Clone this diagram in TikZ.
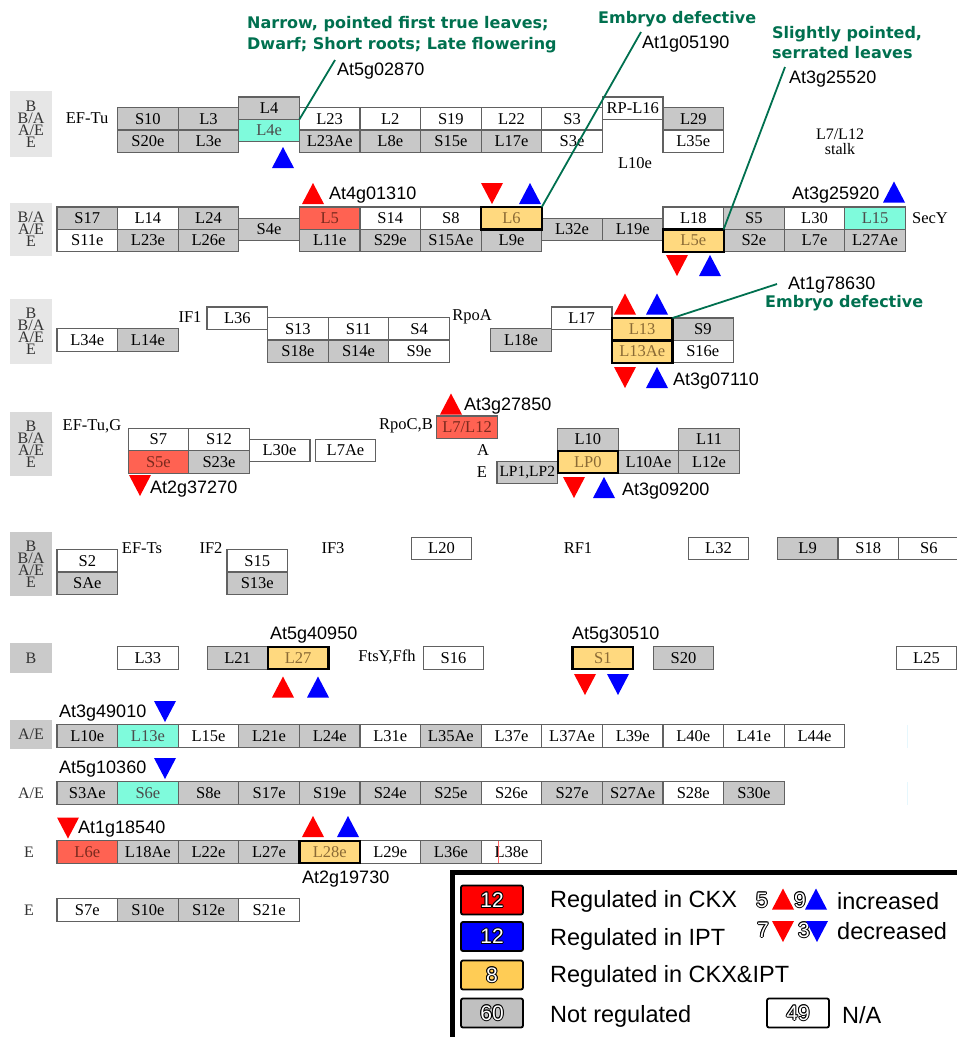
\documentclass[tikz,border=0pt]{standalone}
\usepackage{fontspec}
\setmainfont{Liberation Serif}
\newfontfamily\genefont{Liberation Sans}
\newfontfamily\phenofont{DejaVu Sans}
\usetikzlibrary{positioning}

\definecolor{cellgray}{HTML}{C8C8C8}
\definecolor{cellcyan}{HTML}{7FFBDC}
\definecolor{cellred}{HTML}{FF6252}
\definecolor{cellyellow}{HTML}{FFD97F}
\definecolor{phgreen}{HTML}{00704F}
\definecolor{redtext}{HTML}{7A2A1E}
\definecolor{yeltext}{HTML}{8A6A35}
\definecolor{sidelight}{HTML}{E6E6E6}
\definecolor{sidemid}{HTML}{DADADA}
\definecolor{sidedark}{HTML}{CACACA}
\definecolor{legyellow}{HTML}{FFCC55}
\definecolor{leggray}{HTML}{C0C0C0}

\tikzset{
  cell/.style={draw=black!62, line width=1.2pt, minimum width=60.6pt, minimum height=22.4pt,
    inner sep=0pt, outer sep=0pt, font=\fontsize{16.5}{16.5}\selectfont},
  gr/.style={fill=cellgray},
  wh/.style={fill=white},
  cy/.style={fill=cellcyan, text=black!70},
  rd/.style={fill=cellred, text=redtext},
  yl/.style={fill=cellyellow, text=yeltext},
  side/.style={minimum width=42pt, inner sep=0pt, align=center, text=black!80,
    font=\fontsize{16}{12}\selectfont},
  lbl/.style={inner sep=0pt, font=\fontsize{16.5}{16.5}\selectfont},
  gene/.style={anchor=base west, inner sep=0pt, font=\genefont\fontsize{18}{18}\selectfont},
  pheno/.style={anchor=base west, inner sep=0pt, text=phgreen,
    font=\phenofont\bfseries\fontsize{16}{16}\selectfont},
  phline/.style={draw=phgreen, line width=1.8pt},
  legbox/.style={draw=black, line width=1.8pt, rounded corners=2pt, minimum width=62pt,
    minimum height=29pt, inner sep=0pt},
  legnum/.style={inner sep=0pt, font=\genefont\fontsize{21}{21}\selectfont},
  legtext/.style={anchor=base west, inner sep=0pt, font=\genefont\fontsize{23.5}{23.5}\selectfont},
  tri up/.pic={\fill (-11,10.5) -- (11,10.5) -- (0,-10.5) -- cycle;},
  tri down/.pic={\fill (-11,-10.5) -- (11,-10.5) -- (0,10.5) -- cycle;}
}

% white digits with a black rim
\newcommand{\outlinenum}[2]{%
  \foreach \a in {0,45,...,315}
    \node[legnum,text=black] (#1-o\a) at ([shift={(\a:1)}]#1) {#2};
  \node[legnum,text=white] (#1-n) at (#1) {#2};}

\begin{document}
\begin{tikzpicture}[x=1pt,y=-1pt]
\useasboundingbox (0,0) rectangle (957,1037);

% row 1
\node[side,fill=sidelight,minimum height=66pt] (side1) at (31,124) {B\\B/A\\A/E\\E};
\node[lbl] (eftu) at (87,118) {EF-Tu};
\node[cell,gr] (S10) at (147.9,118.7) {S10};
\node[cell,gr,below=0pt of S10] (S20e) {S20e};
\node[cell,gr,right=0pt of S10] (L3) {L3};
\node[cell,gr,below=0pt of L3] (L3e) {L3e};
\node[cell,gr] (L4) at (269.1,108.2) {L4};
\node[cell,cy,below=0pt of L4] (L4e) {L4e};
\node[cell,wh] (L23) at (329.7,118.7) {L23};
\node[cell,gr,below=0pt of L23] (L23Ae) {L23Ae};
\node[cell,wh,right=0pt of L23] (L2) {L2};
\node[cell,gr,below=0pt of L2] (L8e) {L8e};
\node[cell,wh,right=0pt of L2] (S19) {S19};
\node[cell,gr,below=0pt of S19] (S15e) {S15e};
\node[cell,wh,right=0pt of S19] (L22) {L22};
\node[cell,gr,below=0pt of L22] (L17e) {L17e};
\node[cell,wh,right=0pt of L22] (S3) {S3};
\node[cell,wh,below=0pt of S3] (S3e) {S3e};
\node[cell,wh] (RPL16) at (632.7,108.2) {RP-L16};
\node[cell,gr] (L29) at (693.3,118.7) {L29};
\node[cell,wh,below=0pt of L29] (L35e) {L35e};
\node[lbl] (L10etxt) at (635,163) {L10e};
\node[lbl,align=center,font=\fontsize{16}{15}\selectfont] (stalk) at (840,142) {L7/L12\\stalk};

% row 2
\node[side,fill=sidelight,minimum height=53pt] (side2) at (31,229.5) {B/A\\A/E\\E};
\node[cell,gr] (S17) at (87.3,218.2) {S17};
\node[cell,wh,below=0pt of S17] (S11e) {S11e};
\node[cell,wh,right=0pt of S17] (L14) {L14};
\node[cell,gr,below=0pt of L14] (L23e) {L23e};
\node[cell,gr,right=0pt of L14] (L24) {L24};
\node[cell,gr,below=0pt of L24] (L26e) {L26e};
\node[cell,gr] (S4e) at (269.1,229.4) {S4e};
\node[cell,rd] (L5) at (329.7,218.2) {L5};
\node[cell,gr,below=0pt of L5] (L11e) {L11e};
\node[cell,wh,right=0pt of L5] (S14) {S14};
\node[cell,gr,below=0pt of S14] (S29e) {S29e};
\node[cell,wh,right=0pt of S14] (S8) {S8};
\node[cell,gr,below=0pt of S8] (S15Ae) {S15Ae};
\node[cell,yl,right=0pt of S8] (L6) {L6};
\node[cell,gr,below=0pt of L6] (L9e) {L9e};
\node[cell,gr] (L32e) at (572.1,229.4) {L32e};
\node[cell,gr,right=0pt of L32e] (L19e) {L19e};
\node[cell,wh] (L18) at (693.3,218.2) {L18};
\node[cell,yl,below=0pt of L18] (L5e) {L5e};
\node[cell,gr,right=0pt of L18] (S5) {S5};
\node[cell,gr,below=0pt of S5] (S2e) {S2e};
\node[cell,wh,right=0pt of S5] (L30) {L30};
\node[cell,gr,below=0pt of L30] (L7e) {L7e};
\node[cell,cy,right=0pt of L30] (L15) {L15};
\node[cell,gr,below=0pt of L15] (L27Ae) {L27Ae};
\node[lbl] (secy) at (930,218) {SecY};

% row 3
\node[side,fill=sidelight,minimum height=65pt] (side3) at (31,331.5) {B\\B/A\\A/E\\E};
\node[cell,wh] (L34e) at (87.3,340) {L34e};
\node[cell,gr,right=0pt of L34e] (L14e) {L14e};
\node[lbl] (if1) at (190,317) {IF1};
\node[cell,wh] (L36) at (237.3,318.2) {L36};
\node[cell,wh] (S13) at (297.9,328.7) {S13};
\node[cell,gr,below=0pt of S13] (S18e) {S18e};
\node[cell,wh,right=0pt of S13] (S11) {S11};
\node[cell,gr,below=0pt of S11] (S14e) {S14e};
\node[cell,wh,right=0pt of S11] (S4) {S4};
\node[cell,wh,below=0pt of S4] (S9e) {S9e};
\node[lbl] (rpoa) at (472,317) {RpoA};
\node[cell,gr] (L18e) at (521,340) {L18e};
\node[cell,wh] (L17) at (581.6,318.2) {L17};
\node[cell,yl] (L13) at (642.2,329.2) {L13};
\node[cell,yl,below=0pt of L13] (L13Ae) {L13Ae};
\node[cell,gr,right=0pt of L13] (S9) {S9};
\node[cell,wh,below=0pt of S9] (S16e) {S16e};

% row 4
\node[side,fill=sidemid,minimum height=64pt] (side4) at (31,444) {B\\B/A\\A/E\\E};
\node[lbl] (eftug) at (92,426) {EF-Tu,G};
\node[cell,wh] (S7) at (158.4,439.5) {S7};
\node[cell,rd,below=0pt of S7] (S5e) {S5e};
\node[cell,wh,right=0pt of S7] (S12) {S12};
\node[cell,gr,below=0pt of S12] (S23e) {S23e};
\node[cell,wh] (L30e) at (279.6,450.3) {L30e};
\node[cell,wh] (L7Ae) at (345.5,450.3) {L7Ae};
\node[lbl] (rpocb) at (406,426) {RpoC,B};
\node[cell,rd] (L7L12) at (467,427.2) {L7/L12};
\node[lbl] (atxt) at (483,450) {A};
\node[lbl] (etxt) at (482,472) {E};
\node[cell,gr,font=\fontsize{15.5}{15.5}\selectfont] (LP12) at (527.3,472.3) {LP1,LP2};
\node[cell,gr] (L10) at (587.9,439.5) {L10};
\node[cell,yl,below=0pt of L10] (LP0) {LP0};
\node[cell,gr,right=0pt of LP0] (L10Ae) {L10Ae};
\node[cell,gr,right=0pt of L10Ae] (L12e) {L12e};
\node[cell,gr,above=0pt of L12e] (L11) {L11};

% row 5
\node[side,fill=sidedark,minimum height=64pt] (side5) at (31,564) {B\\B/A\\A/E\\E};
\node[cell,wh] (S2) at (87.3,560.7) {S2};
\node[cell,gr,below=0pt of S2] (SAe) {SAe};
\node[lbl] (efts) at (142,548) {EF-Ts};
\node[lbl] (if2) at (211,548) {IF2};
\node[cell,wh] (S15) at (257.3,560.7) {S15};
\node[cell,gr,below=0pt of S15] (S13e) {S13e};
\node[lbl] (if3) at (333,548) {IF3};
\node[cell,wh] (L20) at (441.5,548.5) {L20};
\node[lbl] (rf1) at (578,548) {RF1};
\node[cell,wh] (L32) at (718.5,548.5) {L32};
\node[cell,gr] (L9) at (807.6,548.5) {L9};
\node[cell,wh,right=0pt of L9] (S18) {S18};
\node[cell,wh,right=0pt of S18] (S6) {S6};

% row 6
\node[side,fill=sidedark,minimum height=30pt] (side6) at (31,658) {B};
\node[cell,wh] (L33) at (147.9,658) {L33};
\node[cell,gr] (L21) at (237.6,658) {L21};
\node[cell,yl,right=0pt of L21] (L27) {L27};
\node[lbl] (ftsy) at (387,657) {FtsY,Ffh};
\node[cell,wh] (S16) at (453.5,658) {S16};
\node[cell,yl] (S1) at (602.8,658) {S1};
\node[cell,gr] (S20) at (683.5,658) {S20};
\node[cell,wh] (L25) at (926.5,658) {L25};

% rows 7 to 10
\node[side,fill=sidedark,minimum height=29pt] (side7) at (31,734.5) {A/E};
\foreach \lab/\fil [count=\i from 0] in {L10e/gr,L13e/cy,L15e/wh,L21e/gr,L24e/gr,L31e/wh,
    L35Ae/gr,L37e/wh,L37Ae/wh,L39e/wh,L40e/wh,L41e/wh,L44e/wh}
  \node[cell,\fil] (\lab) at (87.3+60.6*\i,736) {\lab};
\node[side] (side8) at (31,793) {A/E};
\foreach \lab/\fil [count=\i from 0] in {S3Ae/gr,S6e/cy,S8e/gr,S17e/gr,S19e/gr,S24e/gr,
    S25e/gr,S26e/wh,S27e/gr,S27Ae/gr,S28e/wh,S30e/gr}
  \node[cell,\fil] (\lab) at (87.3+60.6*\i,793) {\lab};
\node[side] (side9) at (29,852) {E};
\foreach \lab/\fil [count=\i from 0] in {L6e/rd,L18Ae/gr,L22e/gr,L27e/gr,L28e/yl,L29e/wh,
    L36e/gr,L38e/wh}
  \node[cell,\fil] (\lab) at (87.3+60.6*\i,852) {\lab};
\node[side] (side10) at (29,910) {E};
\foreach \lab/\fil [count=\i from 0] in {S7e/wh,S10e/gr,S12e/gr,S21e/wh}
  \node[cell,\fil] (\lab) at (87.3+60.6*\i,910) {\lab};
\draw[red!60, line width=0.6pt] ([xshift=-13.5pt]L38e.north) -- ([xshift=-13.5pt]L38e.south);
\draw[cyan!10, line width=1pt] (907,725) -- (907,748) (907,782) -- (907,805);

% bold frames of the cells regulated in both lines
\foreach \n in {L6,L5e,L13,L13Ae,LP0,L27,S1,L28e}
  \draw[line width=2.2pt] (\n.south west) rectangle (\n.north east);

% phenotypes and gene names
\node[pheno] (ph1a) at (247,28) {Narrow, pointed first true leaves;};
\node[pheno] (ph1b) at (247,49) {Dwarf; Short roots; Late flowering};
\node[gene] (g5g02870) at (337,75) {At5g02870};
\coordinate (e1) at (335,60);
\draw[phline] (L4.south east) -- (e1);
\node[pheno] (ph2) at (598,23) {Embryo defective};
\node[gene] (g1g05190) at (642,48) {At1g05190};
\coordinate (e2) at (641,32);
\draw[phline] (L6.north east) -- (e2);
\node[pheno] (ph3a) at (772,38) {Slightly pointed,};
\node[pheno] (ph3b) at (772,58) {serrated leaves};
\node[gene] (g3g25520) at (789,83) {At3g25520};
\coordinate (e3) at (785,67);
\draw[phline] (L5e.north east) -- (e3);
\node[gene] (g1g78630) at (788,289) {At1g78630};
\node[pheno] (ph4) at (765,307) {Embryo defective};
\coordinate (e4) at (777,284);
\draw[phline] (L13.north east) -- (e4);
\node[gene] (g4g01310) at (329,199) {At4g01310};
\node[gene] (g3g25920) at (792,199) {At3g25920};
\node[gene] (g3g07110) at (673,385) {At3g07110};
\node[gene] (g3g27850) at (464,410) {At3g27850};
\node[gene] (g2g37270) at (150,493) {At2g37270};
\node[gene] (g3g09200) at (622,495) {At3g09200};
\node[gene] (g5g40950) at (270,639) {At5g40950};
\node[gene] (g5g30510) at (572,639) {At5g30510};
\node[gene] (g3g49010) at (59,717) {At3g49010};
\node[gene] (g5g10360) at (59,773) {At5g10360};
\node[gene] (g1g18540) at (78,833) {At1g18540};
\node[gene] (g2g19730) at (302,883) {At2g19730};

% up and down marks
\pic[blue] at (283,157.5) {tri up};
\pic[red] at (313,193.5) {tri up};
\pic[red] at (492,193.5) {tri down};
\pic[blue] at (530,193.5) {tri up};
\pic[red] at (677,265.5) {tri down};
\pic[blue] at (710,265.5) {tri up};
\pic[blue] at (894,192) {tri up};
\pic[red] at (625,304) {tri up};
\pic[blue] at (657,304) {tri up};
\pic[red] at (625,377.5) {tri down};
\pic[blue] at (657,377.5) {tri up};
\pic[red] at (140,485.5) {tri down};
\pic[red] at (451,404) {tri up};
\pic[red] at (574,487.5) {tri down};
\pic[blue] at (604,487.5) {tri up};
\pic[red] at (283,687) {tri up};
\pic[blue] at (318,687) {tri up};
\pic[red] at (585,684.5) {tri down};
\pic[blue] at (618,684.5) {tri down};
\pic[blue] at (165,711.5) {tri down};
\pic[blue] at (165,768.5) {tri down};
\pic[red] at (68,828) {tri down};
\pic[red] at (313,826.5) {tri up};
\pic[blue] at (348,826.5) {tri up};

% legend
\draw[line width=5pt] (962,872.5) -- (452.5,872.5) -- (452.5,1042);
\node[legbox,fill=red] (legred) at (492,900) {};
\node[legbox,fill=blue] (legblue) at (492,936.5) {};
\node[legbox,fill=legyellow] (legyel) at (492,975) {};
\node[legbox,fill=leggray] (leggr) at (492,1013) {};
\node[legbox,fill=white] (legna) at (798,1013) {};
\outlinenum{legred}{12}
\outlinenum{legblue}{12}
\outlinenum{legyel}{8}
\outlinenum{leggr}{60}
\outlinenum{legna}{49}
\node[legtext] (tckx) at (550,907) {Regulated in CKX};
\node[legtext] (tipt) at (550,945) {Regulated in IPT};
\node[legtext] (tboth) at (550,982) {Regulated in CKX\&IPT};
\node[legtext] (tnot) at (550,1022) {Not regulated};
\node[legtext] (tna) at (842,1023) {N/A};
\coordinate (n5) at (762,900);
\coordinate (n9) at (800,900);
\coordinate (n7) at (763,930);
\coordinate (n3) at (804,930);
\outlinenum{n5}{5}
\outlinenum{n9}{9}
\outlinenum{n7}{7}
\outlinenum{n3}{3}
\pic[red] at (783,899) {tri up};
\pic[blue] at (816,899) {tri up};
\pic[red] at (783,931.5) {tri down};
\pic[blue] at (817,931.5) {tri down};
\node[legtext] (tinc) at (837,909) {increased};
\node[legtext] (tdec) at (837,939) {decreased};
\end{tikzpicture}
\end{document}
